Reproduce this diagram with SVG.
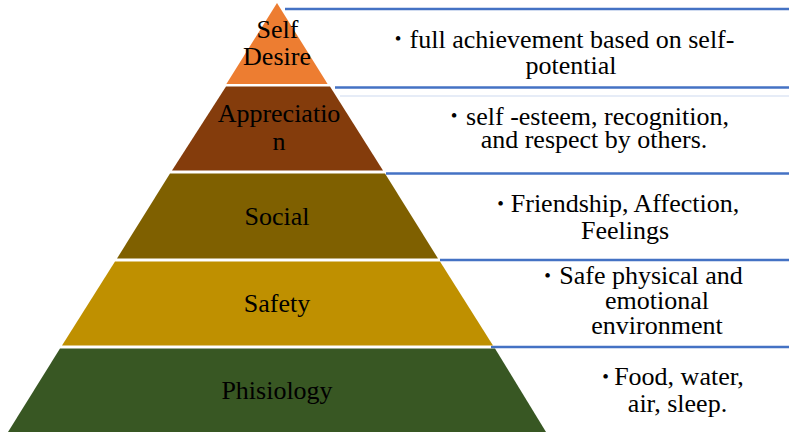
<svg xmlns="http://www.w3.org/2000/svg" width="789" height="432" viewBox="0 0 789 432">
<style>
.sep{stroke:#4472C4;stroke-width:2.5;fill:none}
.sep2{stroke:#E6ECF7;stroke-width:2;fill:none}
</style>
<rect width="789" height="432" fill="#FFFFFF"/>
<g id="connectors">
<line class="sep" x1="285" y1="9" x2="789" y2="9"/>
<line class="sep" x1="335" y1="87.5" x2="789" y2="87.5"/>
<line class="sep2" x1="340" y1="96" x2="789" y2="96"/>
<line class="sep" x1="386" y1="173.5" x2="789" y2="173.5"/>
<line class="sep" x1="440" y1="260" x2="789" y2="260"/>
<line class="sep" x1="491" y1="347" x2="789" y2="347"/>
</g>
<g id="self-desire">
<polygon fill="#ED7D31" points="277,3 327.6,84 226.4,84"/>
<text x="277.5" y="37.5" font-family="Liberation Serif" font-size="26" text-anchor="middle">Self</text>
<text x="277" y="65" font-family="Liberation Serif" font-size="26" text-anchor="middle">Desire</text>
</g>
<g id="appreciation">
<polygon fill="#843C0C" points="226,86.5 330,86.5 383,170.5 172,170.5"/>
<text x="279" y="122" font-family="Liberation Serif" font-size="26" text-anchor="middle">Appreciatio</text>
<text x="279" y="149.5" font-family="Liberation Serif" font-size="26" text-anchor="middle">n</text>
</g>
<g id="social">
<polygon fill="#7F6000" points="170,173.5 385,173.5 438,258.5 117,258.5"/>
<text x="277" y="225" font-family="Liberation Serif" font-size="26" text-anchor="middle">Social</text>
</g>
<g id="safety">
<polygon fill="#BF9000" points="115,261.5 440,261.5 493,345.5 62,345.5"/>
<text x="277" y="311.5" font-family="Liberation Serif" font-size="26" text-anchor="middle">Safety</text>
</g>
<g id="phisiology">
<polygon fill="#385723" points="60,348.5 495,348.5 546,432 8,432"/>
<text x="277" y="399" font-family="Liberation Serif" font-size="26" text-anchor="middle">Phisiology</text>
</g>
<g id="text-self-desire">
<text x="398" y="45" font-family="Liberation Serif" font-size="19" text-anchor="middle">•</text>
<text x="572" y="47.5" font-family="Liberation Serif" font-size="26" text-anchor="middle">full achievement based on self-</text>
<text x="571" y="73.5" font-family="Liberation Serif" font-size="26" text-anchor="middle">potential</text>
</g>
<g id="text-appreciation">
<text x="454" y="122" font-family="Liberation Serif" font-size="19" text-anchor="middle">•</text>
<text x="597.5" y="124.5" font-family="Liberation Serif" font-size="26" text-anchor="middle">self -esteem, recognition,</text>
<text x="594" y="148" font-family="Liberation Serif" font-size="26" text-anchor="middle">and respect by others.</text>
</g>
<g id="text-social">
<text x="500.5" y="209.5" font-family="Liberation Serif" font-size="19" text-anchor="middle">•</text>
<text x="625" y="212" font-family="Liberation Serif" font-size="26" text-anchor="middle">Friendship, Affection,</text>
<text x="625" y="239" font-family="Liberation Serif" font-size="26" text-anchor="middle">Feelings</text>
</g>
<g id="text-safety">
<text x="547.5" y="281.5" font-family="Liberation Serif" font-size="19" text-anchor="middle">•</text>
<text x="651" y="284" font-family="Liberation Serif" font-size="26" text-anchor="middle">Safe physical and</text>
<text x="657" y="309" font-family="Liberation Serif" font-size="26" text-anchor="middle">emotional</text>
<text x="657" y="334" font-family="Liberation Serif" font-size="26" text-anchor="middle">environment</text>
</g>
<g id="text-phisiology">
<text x="605.5" y="382.5" font-family="Liberation Serif" font-size="19" text-anchor="middle">•</text>
<text x="679" y="385" font-family="Liberation Serif" font-size="26" text-anchor="middle">Food, water,</text>
<text x="677.5" y="412" font-family="Liberation Serif" font-size="26" text-anchor="middle">air, sleep.</text>
</g>
</svg>
